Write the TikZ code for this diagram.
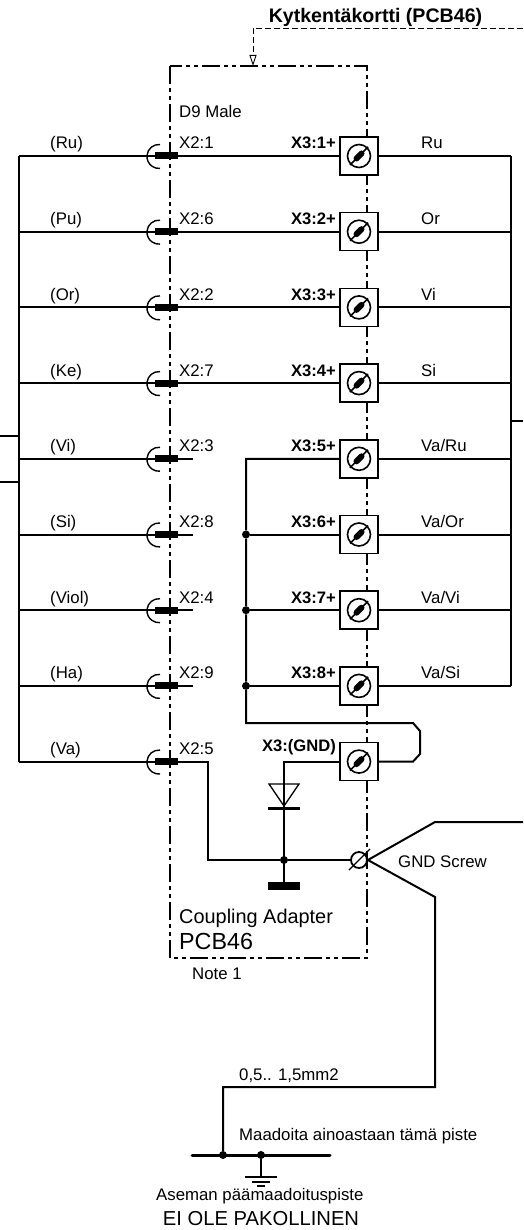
\documentclass[tikz,border=0pt]{standalone}
\usepackage{fontspec}
\setmainfont{Liberation Sans}
\usetikzlibrary{arrows.meta}

\tikzset{
    wire/.style={line width=2pt},
    busline/.style={line width=2.4pt},
    plugcup/.style={line width=1.4pt},
    board/.style={line width=1.3pt, dash pattern=on 18pt off 4pt on 4pt off 4pt on 4pt off 4pt},
    lead/.style={line width=0.9pt, dash pattern=on 6pt off 3pt},
    plugbar/.style={fill=black, inner sep=0pt, minimum width=23pt, minimum height=7pt},
    term/.style={draw, fill=white, line width=1.5pt, inner sep=0pt, minimum size=38pt,
        path picture={
            \draw[line width=1.6pt] (path picture bounding box.center) circle (11.5);
            \draw[line width=1.6pt] ([shift={(-9,9)}]path picture bounding box.center) -- ([shift={(9,-9)}]path picture bounding box.center);
            \draw[line width=6pt, line cap=round] ([shift={(-2.5,2.5)}]path picture bounding box.center) -- ([shift={(2.5,-2.5)}]path picture bounding box.center);
        }},
    dot/.style={circle, fill=black, inner sep=0pt, minimum size=8pt},
    txt/.style={inner sep=0pt, anchor=base west, font=\fontsize{16.8}{20}\selectfont},
    xthree/.style={inner sep=0pt, anchor=base east, font=\fontsize{16.6}{20}\selectfont\bfseries},
}

\begin{document}
\begin{tikzpicture}[x=1pt, y=-1pt]
    \useasboundingbox (0, 0) rectangle (523, 1230);

    % the board outline and its lead
    \draw[board] (170, 66) rectangle (367, 958);
    \coordinate (leadstart) at (523, 28);
    \coordinate (leadcorner) at (253, 28);
    \coordinate (leadend) at (253, 66);
    \draw[lead, -{Triangle[open, length=11pt, width=7pt]}] (leadstart) -- (leadcorner) -- (leadend);
    \node[inner sep=0pt, anchor=base, font=\fontsize{19.6}{23}\selectfont\bfseries] (title) at (375.5, 23) {Kytkentäkortti (PCB46)};

    % these are the plugs
    \node[plugbar] (p1) at (166.5, 156) {};
    \node[plugbar] (p2) at (166.5, 231.7) {};
    \node[plugbar] (p3) at (166.5, 307.4) {};
    \node[plugbar] (p4) at (166.5, 383.1) {};
    \node[plugbar] (p5) at (166.5, 458.8) {};
    \node[plugbar] (p6) at (166.5, 534.5) {};
    \node[plugbar] (p7) at (166.5, 610.2) {};
    \node[plugbar] (p8) at (166.5, 685.9) {};
    \node[plugbar] (p9) at (166.5, 761.6) {};

    \draw[plugcup] ([shift={(-6.5,-11.5)}]p1.center) arc[start angle=-85, end angle=-275, radius=12];
    \draw[plugcup] ([shift={(-6.5,-11.5)}]p2.center) arc[start angle=-85, end angle=-275, radius=12];
    \draw[plugcup] ([shift={(-6.5,-11.5)}]p3.center) arc[start angle=-85, end angle=-275, radius=12];
    \draw[plugcup] ([shift={(-6.5,-11.5)}]p4.center) arc[start angle=-85, end angle=-275, radius=12];
    \draw[plugcup] ([shift={(-6.5,-11.5)}]p5.center) arc[start angle=-85, end angle=-275, radius=12];
    \draw[plugcup] ([shift={(-6.5,-11.5)}]p6.center) arc[start angle=-85, end angle=-275, radius=12];
    \draw[plugcup] ([shift={(-6.5,-11.5)}]p7.center) arc[start angle=-85, end angle=-275, radius=12];
    \draw[plugcup] ([shift={(-6.5,-11.5)}]p8.center) arc[start angle=-85, end angle=-275, radius=12];
    \draw[plugcup] ([shift={(-6.5,-11.5)}]p9.center) arc[start angle=-85, end angle=-275, radius=12];

    % these are the terminals
    \node[term] (t1) at (359, 156) {};
    \node[term] (t2) at (359, 231.7) {};
    \node[term] (t3) at (359, 307.4) {};
    \node[term] (t4) at (359, 383.1) {};
    \node[term] (t5) at (359, 458.8) {};
    \node[term] (t6) at (359, 534.5) {};
    \node[term] (t7) at (359, 610.2) {};
    \node[term] (t8) at (359, 685.9) {};
    \node[term] (t9) at (359, 761.6) {};

    % the two buses
    \coordinate (l1) at (19, 156);
    \coordinate (l2) at (19, 231.7);
    \coordinate (l3) at (19, 307.4);
    \coordinate (l4) at (19, 383.1);
    \coordinate (l5) at (19, 458.8);
    \coordinate (l6) at (19, 534.5);
    \coordinate (l7) at (19, 610.2);
    \coordinate (l8) at (19, 685.9);
    \coordinate (l9) at (19, 761.6);
    \coordinate (r1) at (511, 156);
    \coordinate (r2) at (511, 231.7);
    \coordinate (r3) at (511, 307.4);
    \coordinate (r4) at (511, 383.1);
    \coordinate (r5) at (511, 458.8);
    \coordinate (r6) at (511, 534.5);
    \coordinate (r7) at (511, 610.2);
    \coordinate (r8) at (511, 685.9);
    \draw[busline] (l1) -- (l9);
    \draw[busline] (r1) -- (r8);

    % stubs at the picture's edge
    \coordinate (in1) at (0, 436);
    \coordinate (in1b) at (19, 436);
    \coordinate (in2) at (0, 482);
    \coordinate (in2b) at (19, 482);
    \coordinate (out1) at (523, 421);
    \coordinate (out1b) at (511, 421);
    \draw[wire] (in1) -- (in1b);
    \draw[wire] (in2) -- (in2b);
    \draw[wire] (out1) -- (out1b);

    % left of the plugs
    \draw[wire] (l1) -- (p1);
    \draw[wire] (l2) -- (p2);
    \draw[wire] (l3) -- (p3);
    \draw[wire] (l4) -- (p4);
    \draw[wire] (l5) -- (p5);
    \draw[wire] (l6) -- (p6);
    \draw[wire] (l7) -- (p7);
    \draw[wire] (l8) -- (p8);
    \draw[wire] (l9) -- (p9);

    % plugs to terminals
    \draw[wire] (p1) -- (t1);
    \draw[wire] (p2) -- (t2);
    \draw[wire] (p3) -- (t3);
    \draw[wire] (p4) -- (t4);

    % open pins
    \coordinate (s5) at (193, 458.8);
    \coordinate (s6) at (193, 534.5);
    \coordinate (s7) at (193, 610.2);
    \coordinate (s8) at (193, 685.9);
    \draw[wire] (p5) -- (s5);
    \draw[wire] (p6) -- (s6);
    \draw[wire] (p7) -- (s7);
    \draw[wire] (p8) -- (s8);

    % terminals to the right bus
    \draw[wire] (t1) -- (r1);
    \draw[wire] (t2) -- (r2);
    \draw[wire] (t3) -- (r3);
    \draw[wire] (t4) -- (r4);
    \draw[wire] (t5) -- (r5);
    \draw[wire] (t6) -- (r6);
    \draw[wire] (t7) -- (r7);
    \draw[wire] (t8) -- (r8);

    % common line of terminals 5..8 and its loop to GND
    \coordinate (c5) at (246, 458.8);
    \node[dot] (c6) at (246, 534.5) {};
    \node[dot] (c7) at (246, 610.2) {};
    \node[dot] (c8) at (246, 685.9) {};
    \coordinate (c9) at (246, 723);
    \coordinate (b1) at (413, 723);
    \coordinate (b2) at (420, 731);
    \coordinate (b3) at (420, 754);
    \coordinate (b4) at (413, 761.6);
    \draw[wire] (t5) -- (c5) -- (c6) -- (c7) -- (c8) -- (c9) -- (b1) -- (b2) -- (b3) -- (b4) -- (t9);
    \draw[wire] (c6) -- (t6);
    \draw[wire] (c7) -- (t7);
    \draw[wire] (c8) -- (t8);

    % diode and ground screw
    \coordinate (g1) at (284, 761.6);
    \coordinate (d1) at (269, 784);
    \coordinate (d2) at (299, 784);
    \coordinate (d3) at (284, 806);
    \node[fill=black, inner sep=0pt, minimum width=32pt, minimum height=3pt] (diodebar) at (284, 808) {};
    \node[dot] (g2) at (284, 860) {};
    \node[fill=black, inner sep=0pt, minimum width=32pt, minimum height=8pt] (gndbar) at (284, 886) {};
    \node[draw, circle, line width=1.8pt, inner sep=0pt, minimum size=16pt] (screw) at (359, 860) {};
    \coordinate (s1) at (349, 870);
    \coordinate (s2) at (370, 849);
    \coordinate (x1) at (208, 761.6);
    \coordinate (x2) at (208, 860);
    \draw[wire] (t9) -- (g1) -- (gndbar);
    \draw[line width=1.3pt] (d1) -- (d2) -- (d3) -- cycle;
    \draw[wire] (p9) -- (x1) -- (x2) -- (g2) -- (screw);
    \draw[line width=1.3pt] (s1) -- (s2);

    \coordinate (k1) at (435, 822);
    \coordinate (k2) at (523, 822);
    \coordinate (k3) at (435, 897);
    \coordinate (k4) at (435, 1087);
    \coordinate (k5) at (223, 1087);
    \node[dot] (e1) at (223, 1155) {};
    \node[dot] (e2) at (261, 1155) {};
    \coordinate (e3) at (192, 1155);
    \coordinate (e4) at (330, 1155);
    \coordinate (e5) at (261, 1177);
    \draw[wire] (screw.east) -- (k1) -- (k2);
    \draw[wire] (screw.east) -- (k3) -- (k4) -- (k5) -- (e1);
    \draw[line width=3pt, line cap=round] (e3) -- (e4);
    \draw[wire] (e2) -- (e5);

    % earth symbol
    \coordinate (h1) at (245, 1177);
    \coordinate (h2) at (277, 1177);
    \coordinate (h3) at (252, 1182);
    \coordinate (h4) at (270, 1182);
    \coordinate (h5) at (257, 1186);
    \coordinate (h6) at (265, 1186);
    \draw[line width=1.3pt] (h1) -- (h2);
    \draw[line width=1.3pt] (h3) -- (h4);
    \draw[line width=1.3pt] (h5) -- (h6);

    % labels
    \node[txt] (n1) at (50, 149) {(Ru)};
    \node[txt] (n2) at (50, 224.7) {(Pu)};
    \node[txt] (n3) at (50, 300.4) {(Or)};
    \node[txt] (n4) at (50, 376.1) {(Ke)};
    \node[txt] (n5) at (50, 451.8) {(Vi)};
    \node[txt] (n6) at (50, 527.5) {(Si)};
    \node[txt] (n7) at (50, 603.2) {(Viol)};
    \node[txt] (n8) at (50, 678.9) {(Ha)};
    \node[txt] (n9) at (50, 754.6) {(Va)};

    \node[txt] (a0) at (179, 118) {D9 Male};
    \node[txt] (a1) at (179, 149) {X2:1};
    \node[txt] (a2) at (179, 224.7) {X2:6};
    \node[txt] (a3) at (179, 300.4) {X2:2};
    \node[txt] (a4) at (179, 376.1) {X2:7};
    \node[txt] (a5) at (179, 451.8) {X2:3};
    \node[txt] (a6) at (179, 527.5) {X2:8};
    \node[txt] (a7) at (179, 603.2) {X2:4};
    \node[txt] (a8) at (179, 678.9) {X2:9};
    \node[txt] (a9) at (179, 754.6) {X2:5};

    \node[xthree] (b1x) at (336, 149) {X3:1+};
    \node[xthree] (b2x) at (336, 224.7) {X3:2+};
    \node[xthree] (b3x) at (336, 300.4) {X3:3+};
    \node[xthree] (b4x) at (336, 376.1) {X3:4+};
    \node[xthree] (b5x) at (336, 451.8) {X3:5+};
    \node[xthree] (b6x) at (336, 527.5) {X3:6+};
    \node[xthree] (b7x) at (336, 603.2) {X3:7+};
    \node[xthree] (b8x) at (336, 678.9) {X3:8+};
    \node[xthree] (b9x) at (336, 751) {X3:(GND)};

    \node[txt] (c1x) at (421, 149) {Ru};
    \node[txt] (c2x) at (421, 224.7) {Or};
    \node[txt] (c3x) at (421, 300.4) {Vi};
    \node[txt] (c4x) at (421, 376.1) {Si};
    \node[txt] (c5x) at (421, 451.8) {Va/Ru};
    \node[txt] (c6x) at (421, 527.5) {Va/Or};
    \node[txt] (c7x) at (421, 603.2) {Va/Vi};
    \node[txt] (c8x) at (421, 678.9) {Va/Si};

    \node[txt] (gndtxt) at (398, 867) {GND Screw};
    \node[txt, font=\fontsize{19.9}{23}\selectfont] (adapter) at (179, 923) {Coupling Adapter};
    \node[txt, font=\fontsize{23.3}{27}\selectfont] (pcb) at (179, 949) {PCB46};
    \node[txt] (note) at (192, 979) {Note 1};
    \node[txt] (size) at (239, 1080) {0,5.. 1,5mm2};
    \node[txt] (only) at (239, 1140) {Maadoita ainoastaan tämä piste};
    \node[txt] (main) at (156, 1200) {Aseman päämaadoituspiste};
    \node[inner sep=0pt, anchor=base, font=\fontsize{20.2}{24}\selectfont] (optional) at (261, 1225) {EI OLE PAKOLLINEN};
\end{tikzpicture}
\end{document}
